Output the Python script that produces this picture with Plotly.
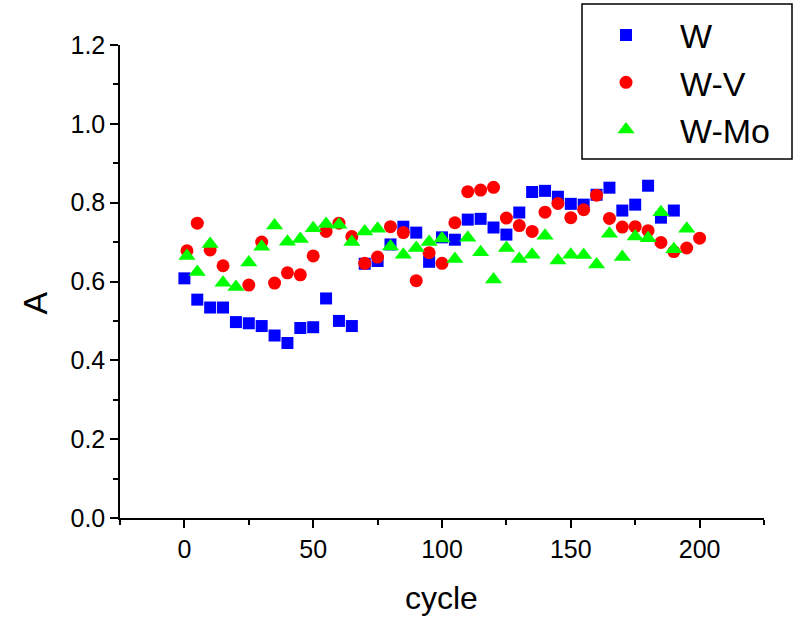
import plotly.graph_objects as go

# ---- data ----
w_x = [0, 5, 10, 15, 20, 25, 30, 35, 40, 45, 50, 55, 60, 65,
       70, 75, 80, 85, 90, 95, 100, 105, 110, 115, 120, 125, 130, 135,
       140, 145, 150, 155, 160, 165, 170, 175, 180, 185, 190]
w_y = [0.608, 0.554, 0.534, 0.534, 0.497, 0.494, 0.487, 0.463, 0.444, 0.482,
       0.484, 0.557, 0.500, 0.487, 0.645, 0.652, 0.694, 0.739, 0.724, 0.650,
       0.712, 0.706, 0.757, 0.759, 0.737, 0.719, 0.775, 0.827, 0.830, 0.815,
       0.797, 0.795, 0.820, 0.838, 0.780, 0.795, 0.843, 0.762, 0.780]

wv_x = [1, 5, 10, 15, 25, 30, 35, 40, 45, 50, 55, 60, 65, 70, 75, 80, 85,
        90, 95, 100, 105, 110, 115, 120, 125, 130, 135, 140, 145, 150, 155,
        160, 165, 170, 175, 180, 185, 190, 195, 200]
wv_y = [0.678, 0.748, 0.680, 0.640, 0.591, 0.700, 0.596, 0.622, 0.617, 0.665,
        0.727, 0.748, 0.714, 0.646, 0.662, 0.739, 0.724, 0.602, 0.673, 0.646,
        0.749, 0.828, 0.832, 0.839, 0.761, 0.742, 0.727, 0.776, 0.798, 0.762,
        0.782, 0.819, 0.760, 0.738, 0.739, 0.729, 0.699, 0.676, 0.685, 0.710]

wmo_x = [1, 5, 10, 15, 20, 25, 30, 35, 40, 45, 50, 55, 60, 65, 70, 75, 80,
         85, 90, 95, 100, 105, 110, 115, 120, 125, 130, 135, 140, 145, 150,
         155, 160, 165, 170, 175, 180, 185, 190, 195]
wmo_y = [0.665, 0.624, 0.695, 0.597, 0.586, 0.648, 0.688, 0.742, 0.701, 0.708,
         0.735, 0.746, 0.744, 0.700, 0.727, 0.734, 0.689, 0.668, 0.685, 0.700,
         0.709, 0.657, 0.711, 0.674, 0.605, 0.685, 0.657, 0.668, 0.716, 0.653,
         0.668, 0.667, 0.643, 0.721, 0.662, 0.714, 0.710, 0.776, 0.682, 0.734]

x_ticks = [0, 50, 100, 150, 200]
y_ticks = [0.0, 0.2, 0.4, 0.6, 0.8, 1.0, 1.2]
y_tick_text = ["0.0", "0.2", "0.4", "0.6", "0.8", "1.0", "1.2"]

FONT = "Arial, Liberation Sans, sans-serif"

fig = go.Figure()
fig.add_trace(go.Scatter(x=w_x, y=w_y, mode="markers", name="W",
                         marker=dict(symbol="square", size=12, color="#0000FF")))
fig.add_trace(go.Scatter(x=wv_x, y=wv_y, mode="markers", name="W-V",
                         marker=dict(symbol="circle", size=13, color="#FF0000")))
fig.add_trace(go.Scatter(x=wmo_x, y=wmo_y, mode="markers", name="W-Mo",
                         marker=dict(symbol="triangle-up", size=15, color="#00FF00")))

fig.update_layout(
    width=802, height=619,
    margin=dict(l=120, r=38, t=45, b=101, autoexpand=False),
    paper_bgcolor="white", plot_bgcolor="white",
    font=dict(family=FONT, color="black"),
    showlegend=True,
    legend=dict(x=(572 - 120) / 644, y=(518 - 6.5) / 473, xanchor="left", yanchor="top",
                font=dict(size=34, family=FONT, color="black"),
                itemwidth=98, bgcolor="rgba(0,0,0,0)", borderwidth=0),
    shapes=[dict(type="rect", xref="paper", yref="paper",
                 x0=(582 - 120) / 644, x1=(792 - 120) / 644,
                 y0=(518 - 159) / 473, y1=(518 - 4) / 473,
                 line=dict(color="black", width=1.5), fillcolor="rgba(0,0,0,0)")],
    annotations=[
        dict(text="A", xref="paper", yref="paper", x=(34 - 120) / 644, y=(518 - 303.5) / 473,
             xanchor="center", yanchor="middle", textangle=-90, showarrow=False,
             font=dict(size=34, family=FONT, color="black")),
        dict(text="cycle", xref="paper", yref="paper", x=(441 - 120) / 644, y=(518 - 598) / 473,
             xanchor="center", yanchor="middle", showarrow=False,
             font=dict(size=32, family=FONT, color="black")),
    ],
)

fig.update_xaxes(range=[-25, 225], tickvals=x_ticks, ticks="outside", ticklen=8,
                 tickwidth=1.5, tickcolor="black", showline=True, linecolor="black",
                 linewidth=1.5, showgrid=False, zeroline=False,
                 tickfont=dict(size=25, family=FONT, color="black"),
                 minor=dict(dtick=25, tick0=0, ticks="outside", ticklen=5, tickwidth=1.5,
                            tickcolor="black", showgrid=False))
fig.update_yaxes(range=[0, 1.2], tickvals=y_ticks, ticktext=y_tick_text, ticks="outside",
                 ticklen=8, tickwidth=1.5, tickcolor="black", showline=True,
                 linecolor="black", linewidth=1.5, showgrid=False, zeroline=False,
                 tickfont=dict(size=25, family=FONT, color="black"),
                 minor=dict(dtick=0.1, tick0=0, ticks="outside", ticklen=5, tickwidth=1.5,
                            tickcolor="black", showgrid=False))

fig.write_html("out.html")
